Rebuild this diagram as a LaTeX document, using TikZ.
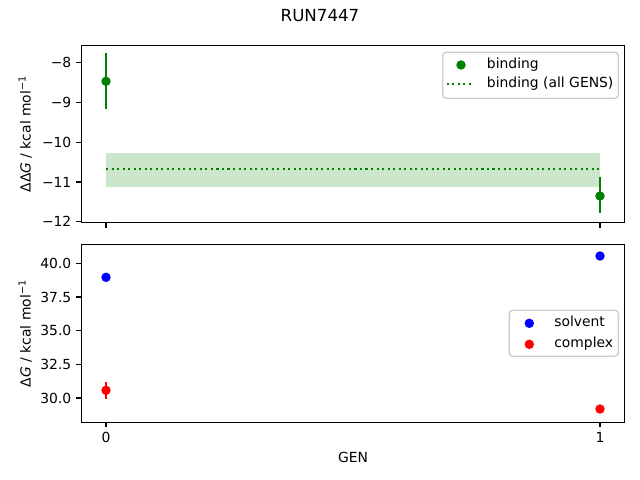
\documentclass[tikz,border=0pt]{standalone}
\usepackage{fontspec}
\setmainfont{DejaVu Sans}
\definecolor{mplgreen}{HTML}{008000}
\definecolor{mplblue}{HTML}{0000FF}
\definecolor{mplred}{HTML}{FF0000}
\definecolor{legedge}{gray}{0.8}
\begin{document}
\begin{tikzpicture}[x=0.72pt,y=-0.72pt,
  spine/.style={line width=0.8pt, black},
  tickmark/.style={line width=0.8pt, black},
  ticklab/.style={font=\fontsize{10}{12}\selectfont, inner sep=0pt},
  errbar/.style={line width=1.5pt},
  legbox/.style={draw=legedge, fill=white, fill opacity=0.8, line width=1pt, rounded corners=2.5pt},
  legtext/.style={font=\fontsize{10}{12}\selectfont, inner sep=0pt, anchor=base west},
  dotline/.style={mplgreen, line width=1.5pt, dash pattern=on 1.5pt off 2.475pt},
  ]
\useasboundingbox (0,0) rectangle (640,480);

% ---------------- top axes ----------------
\fill[mplgreen, fill opacity=0.2] (106,153.3) rectangle (600,186.7);
\draw[dotline] (106,168.7) -- (600,168.7);
% binding points with error bars
\draw[errbar, mplgreen] (106,52.7) -- (106,109.3);
\fill[mplgreen] (106,81.3) circle (3.4pt);
\draw[errbar, mplgreen] (600,176.7) -- (600,213.3);
\fill[mplgreen] (600,196) circle (3.4pt);
% spines
\draw[spine] (81.3,45.3) rectangle (624.7,222.7);
% y ticks
\foreach \yy/\lab [count=\i] in {62.7/−8, 102.45/−9, 142.2/−10, 181.95/−11, 221.7/−12}{
  \draw[tickmark] (81.3,\yy) -- (76.44,\yy);
  \node[ticklab, anchor=east] (ttl\i) at (71.6,\yy) {\lab};
}
% x ticks (no labels)
\foreach \xx in {106,600}{
  \draw[tickmark] (\xx,222.7) -- (\xx,227.56);
}
\node[font=\fontsize{10}{12}\selectfont, inner sep=0pt, rotate=90, anchor=base] (ylabtop) at (30.7,134) {ΔΔ\textit{G} / kcal mol\textsuperscript{−1}};
% legend top
\draw[legbox] (442.7,52.3) rectangle (618.3,98.3);
\fill[mplgreen] (461,65) circle (3.4pt);
\draw[dotline] (446.7,84) -- (474.3,84);
\node[legtext] (lbind) at (486.7,68.6) {binding};
\node[legtext] (lball) at (486.7,87.6) {binding (all GENS)};

% ---------------- bottom axes ----------------
\fill[mplblue] (106,277.3) circle (3.4pt);
\fill[mplblue] (600,256) circle (3.4pt);
\draw[errbar, mplred] (106,382) -- (106,398.7);
\fill[mplred] (106,390.3) circle (3.4pt);
\draw[errbar, mplred] (600,406.5) -- (600,411.5);
\fill[mplred] (600,409) circle (3.4pt);
\draw[spine] (81.3,244.7) rectangle (624.7,422.3);
\foreach \yy/\lab [count=\i] in {263.3/40.0, 297.0/37.5, 330.7/35.0, 364.4/32.5, 398.0/30.0}{
  \draw[tickmark] (81.3,\yy) -- (76.44,\yy);
  \node[ticklab, anchor=east] (btl\i) at (71.6,\yy) {\lab};
}
\draw[tickmark] (106,422.3) -- (106,427.16);
\draw[tickmark] (600,422.3) -- (600,427.16);
\node[ticklab, anchor=north] (xt0) at (106,432) {0};
\node[ticklab, anchor=north] (xt1) at (600,432) {1};
\node[font=\fontsize{10}{12}\selectfont, inner sep=0pt, rotate=90, anchor=base] (ylabbot) at (30.7,333.5) {Δ\textit{G} / kcal mol\textsuperscript{−1}};
% legend bottom
\draw[legbox] (509.3,310.3) rectangle (618.3,356.3);
\fill[mplblue] (529.3,323.3) circle (3.4pt);
\fill[mplred] (529.3,344.3) circle (3.4pt);
\node[legtext] (lsolv) at (554,326.6) {solvent};
\node[legtext] (lcomp) at (554,347.6) {complex};

% labels
\node[font=\fontsize{10}{12}\selectfont, inner sep=0pt] (xlab) at (353,457.3) {GEN};
\node[font=\fontsize{12}{14}\selectfont, inner sep=0pt] (title) at (320,15.8) {RUN7447};
\end{tikzpicture}
\end{document}
